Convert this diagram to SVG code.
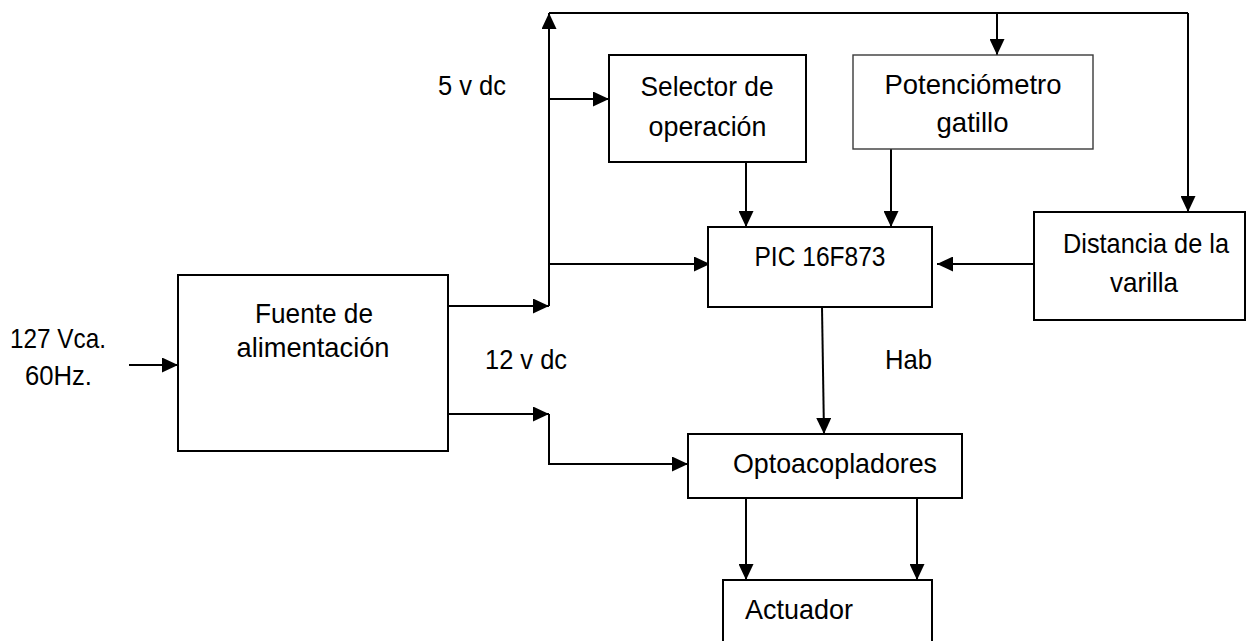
<svg xmlns="http://www.w3.org/2000/svg" width="1246" height="641" viewBox="0 0 1246 641">
  <style>
    .box { fill: #fff; stroke: #000; stroke-width: 2; }
    .box.light { stroke: #3a3a3a; stroke-width: 1.4; }
    .wire { fill: none; stroke: #000; stroke-width: 2; }
    .arrow { fill: none; stroke: #000; stroke-width: 2; marker-end: url(#head); }
    text { font-family: "Liberation Sans", Arial, sans-serif; font-size: 28px; fill: #000; }
    .c { text-anchor: middle; }
  </style>
  <defs>
    <marker id="head" viewBox="0 0 16 15" refX="16" refY="7.5" markerWidth="16" markerHeight="15" markerUnits="userSpaceOnUse" orient="auto">
      <path d="M0,0 L16,7.5 L0,15 z" fill="#000"/>
    </marker>
  </defs>

  <rect width="1246" height="641" fill="#fff"/>

  <!-- connectors -->
  <g id="connectors">
    <!-- mains input -->
    <line class="arrow" x1="129" y1="365" x2="178" y2="365"/>
    <!-- 5 V output and supply bus -->
    <line class="arrow" x1="448" y1="306" x2="549" y2="306"/>
    <line class="arrow" x1="549" y1="306" x2="549" y2="13"/>
    <polyline class="wire" points="549,13 1188,13"/>
    <line class="arrow" x1="997" y1="13" x2="997" y2="55"/>
    <line class="arrow" x1="1188" y1="13" x2="1188" y2="212"/>
    <line class="arrow" x1="549" y1="99" x2="609" y2="99"/>
    <line class="arrow" x1="549" y1="264" x2="710" y2="264"/>
    <!-- inputs to the PIC -->
    <line class="arrow" x1="746" y1="162" x2="746" y2="227"/>
    <line class="arrow" x1="891" y1="149" x2="891" y2="227"/>
    <line class="arrow" x1="1034" y1="264" x2="937" y2="264"/>
    <!-- enable line -->
    <line class="arrow" x1="822" y1="307" x2="824" y2="434"/>
    <!-- 12 V output -->
    <line class="arrow" x1="448" y1="414" x2="549" y2="414"/>
    <polyline class="arrow" points="549,414 549,464 688,464"/>
    <!-- optocouplers to actuator -->
    <line class="arrow" x1="746" y1="498" x2="746" y2="580"/>
    <line class="arrow" x1="917" y1="498" x2="917" y2="580"/>
  </g>

  <!-- free labels -->
  <g id="labels">
    <text x="10" y="348" textLength="96" lengthAdjust="spacingAndGlyphs">127 Vca.</text>
    <text x="25" y="385" textLength="67" lengthAdjust="spacingAndGlyphs">60Hz.</text>
    <text x="438" y="95" textLength="68" lengthAdjust="spacingAndGlyphs">5 v dc</text>
    <text x="485" y="369" textLength="82" lengthAdjust="spacingAndGlyphs">12 v dc</text>
    <text x="885" y="369" textLength="47" lengthAdjust="spacingAndGlyphs">Hab</text>
  </g>

  <g id="fuente">
    <rect class="box" x="178" y="275" width="270" height="176"/>
    <text class="c" x="314" y="323" textLength="118" lengthAdjust="spacingAndGlyphs">Fuente de</text>
    <text class="c" x="313" y="357" textLength="153" lengthAdjust="spacingAndGlyphs">alimentación</text>
  </g>

  <g id="selector">
    <rect class="box" x="609" y="55" width="197" height="107"/>
    <text class="c" x="707" y="96" textLength="133" lengthAdjust="spacingAndGlyphs">Selector de</text>
    <text class="c" x="707.5" y="136" textLength="118" lengthAdjust="spacingAndGlyphs">operación</text>
  </g>

  <g id="potenciometro">
    <rect class="box light" x="853" y="55" width="240" height="94"/>
    <text class="c" x="973" y="94" textLength="177" lengthAdjust="spacingAndGlyphs">Potenciómetro</text>
    <text class="c" x="972.5" y="132" textLength="72" lengthAdjust="spacingAndGlyphs">gatillo</text>
  </g>

  <g id="pic">
    <rect class="box" x="708" y="227" width="224" height="80"/>
    <text class="c" x="820" y="266" textLength="131" lengthAdjust="spacingAndGlyphs">PIC 16F873</text>
  </g>

  <g id="distancia">
    <rect class="box" x="1034" y="212" width="211" height="108"/>
    <text class="c" x="1146" y="253" textLength="166" lengthAdjust="spacingAndGlyphs">Distancia de la</text>
    <text class="c" x="1144" y="292" textLength="68" lengthAdjust="spacingAndGlyphs">varilla</text>
  </g>

  <g id="optoacopladores">
    <rect class="box" x="688" y="434" width="274" height="64"/>
    <text class="c" x="835" y="473" textLength="204" lengthAdjust="spacingAndGlyphs">Optoacopladores</text>
  </g>

  <g id="actuador">
    <rect class="box" x="723" y="580" width="209" height="70"/>
    <text x="745" y="619" textLength="108" lengthAdjust="spacingAndGlyphs">Actuador</text>
  </g>
</svg>
